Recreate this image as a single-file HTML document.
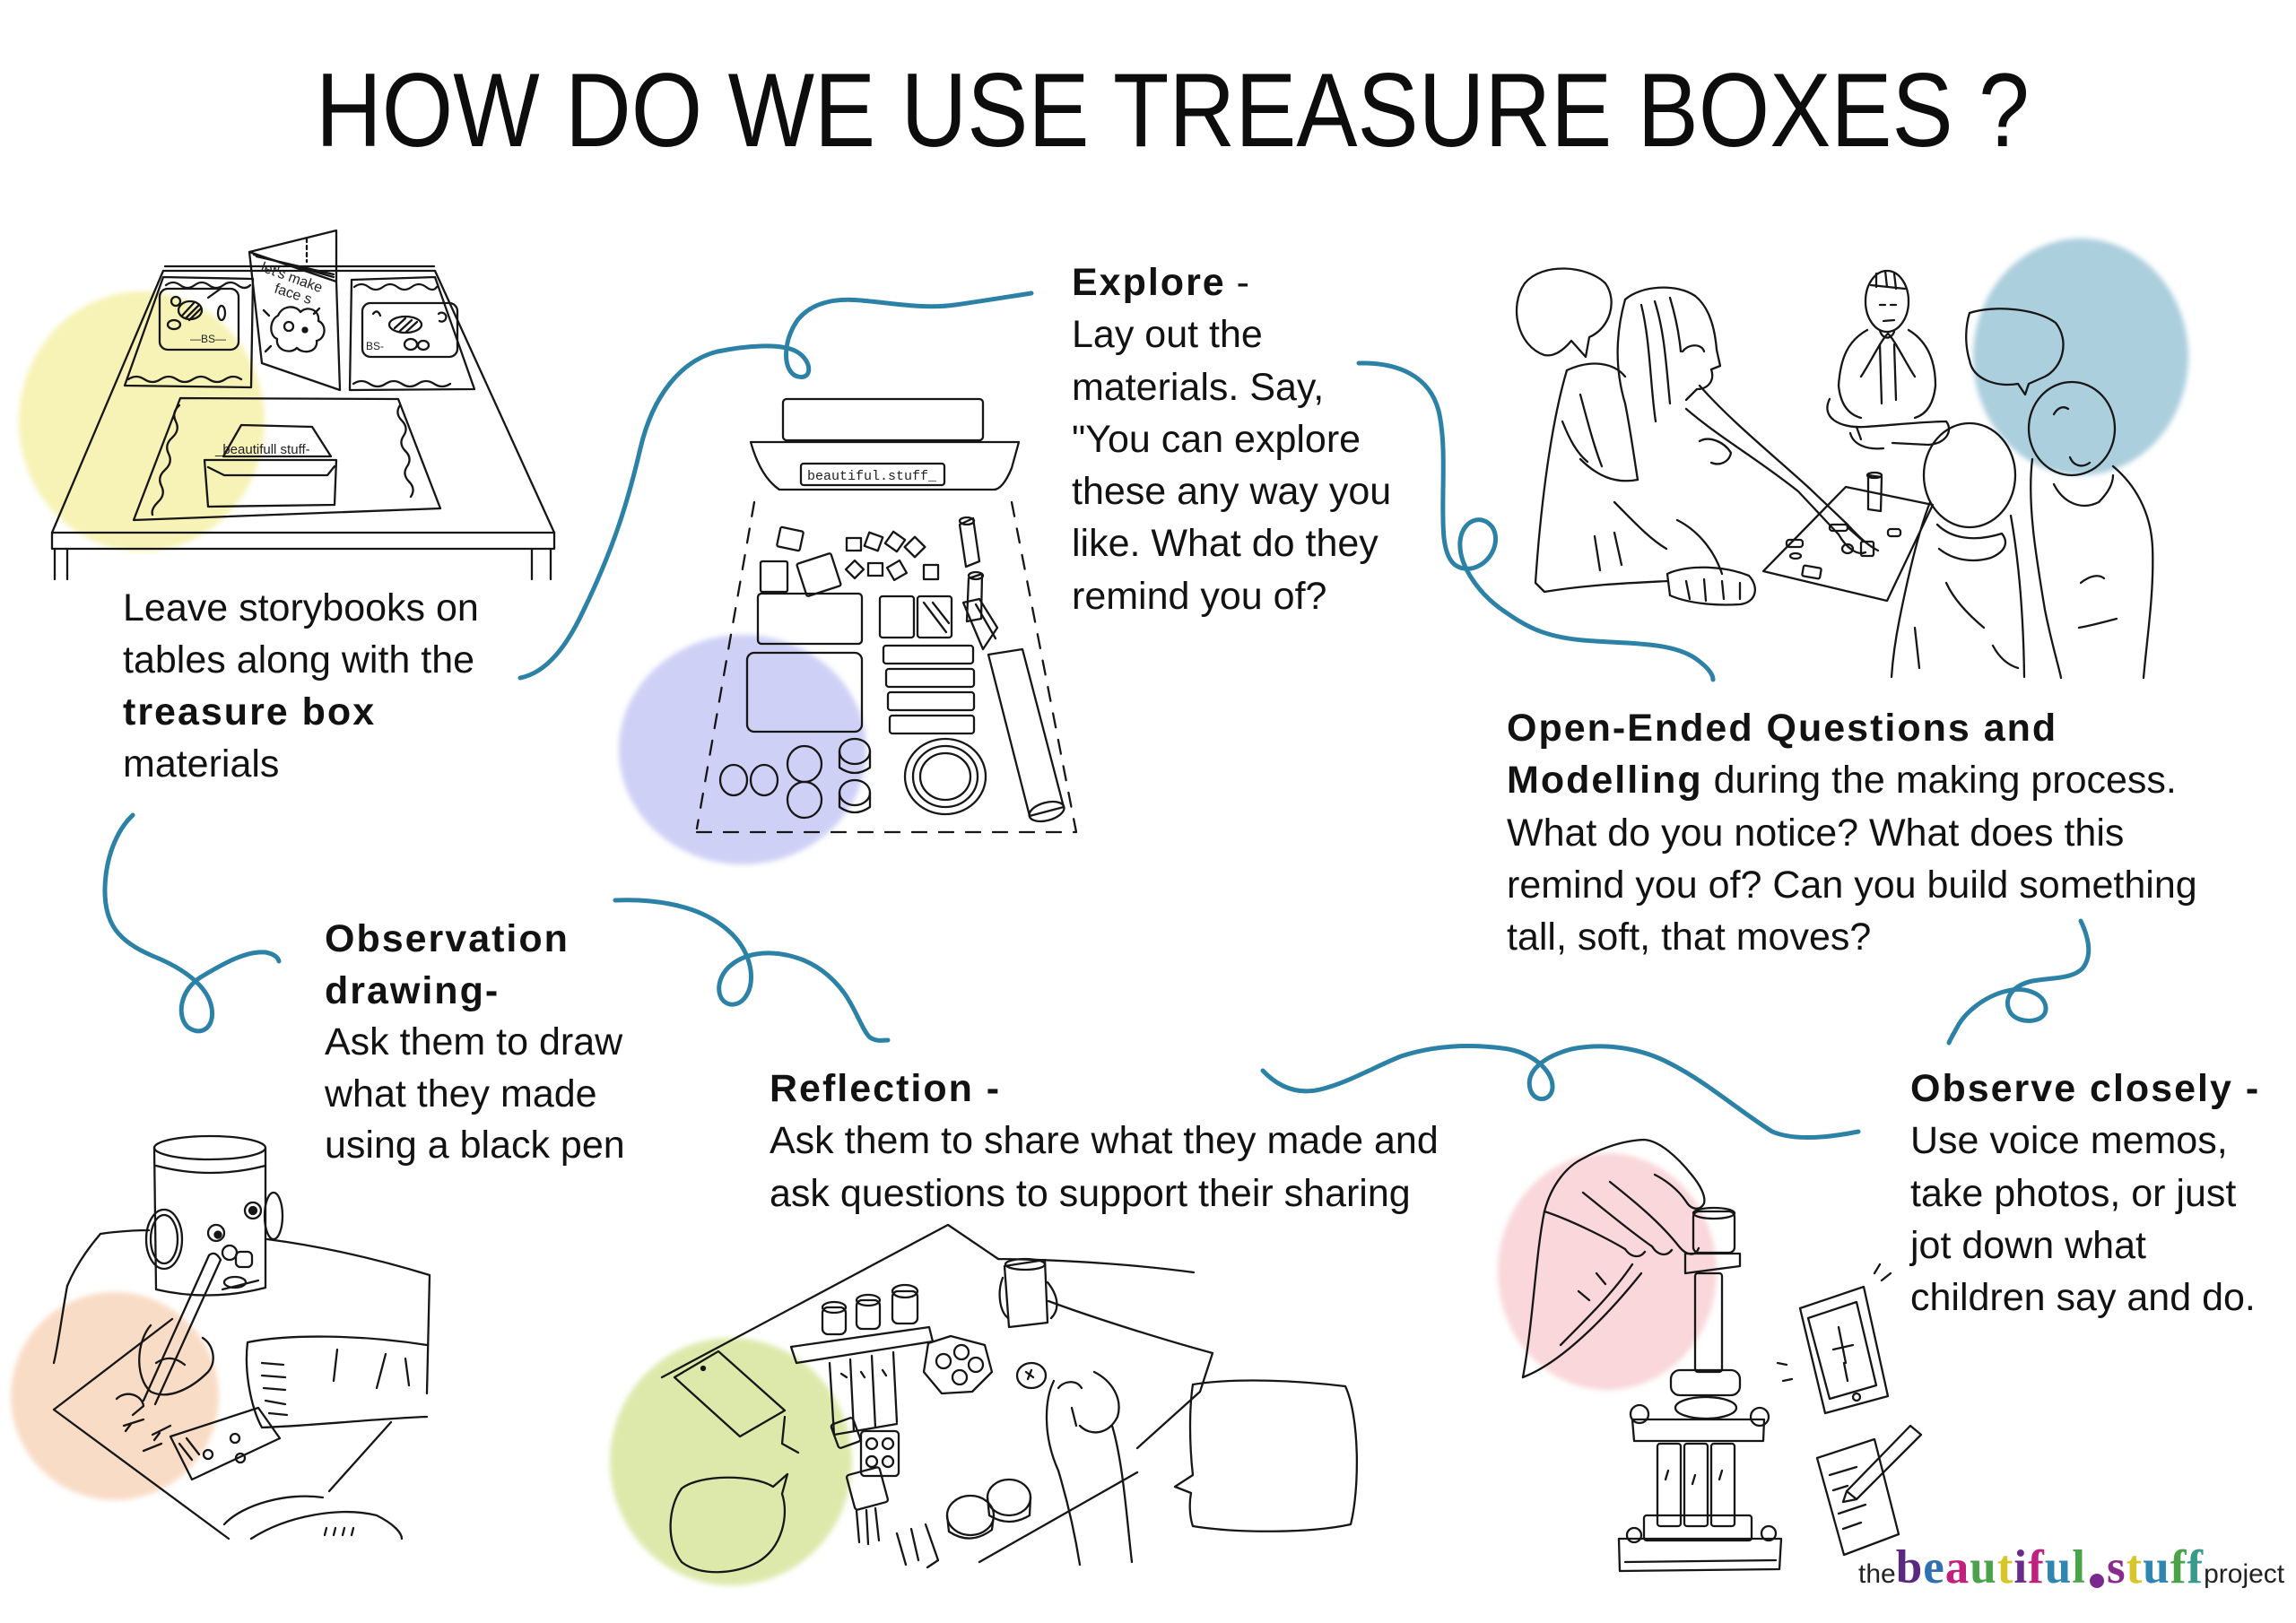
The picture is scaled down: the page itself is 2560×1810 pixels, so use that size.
<!DOCTYPE html>
<html><head><meta charset="utf-8">
<style>
html,body{margin:0;padding:0;background:#fff;}
#pg{position:relative;width:2560px;height:1810px;overflow:hidden;background:#fff;}
.t{position:absolute;font-family:"Liberation Sans",Arial,sans-serif;font-size:43px;line-height:58.3px;color:#121212;white-space:nowrap;}
.t b{font-weight:bold;letter-spacing:2px;}
#title{position:absolute;left:352px;top:64px;font-family:"Liberation Sans",Arial,sans-serif;font-size:117px;line-height:117px;color:#0d0d0d;white-space:nowrap;transform:scaleX(0.873);transform-origin:0 0;}
.logo{position:absolute;left:2072px;top:1718px;white-space:nowrap;font-size:0;}
.logo .s{font-family:"Liberation Sans",Arial,sans-serif;font-size:30px;color:#222;}
.logo .r{font-family:"Liberation Serif",serif;font-size:53px;font-weight:bold;letter-spacing:1px;}
svg text{font-family:"Liberation Sans",Arial,sans-serif;fill:#222;stroke:none;}
</style></head>
<body><div id="pg">
<svg width="2560" height="1810" viewBox="0 0 2560 1810" style="position:absolute;left:0;top:0">
<defs><filter id="soft" x="-20%" y="-20%" width="140%" height="140%"><feGaussianBlur stdDeviation="3"/></filter></defs>
<!-- watercolor blobs -->
<g filter="url(#soft)">
<ellipse cx="158" cy="470" rx="137" ry="145" fill="#f7f3b6"/>
<ellipse cx="828" cy="836" rx="138" ry="128" fill="#cfd0f6"/>
<ellipse cx="2320" cy="398" rx="120" ry="132" fill="#abcfdd"/>
<ellipse cx="128" cy="1557" rx="116" ry="116" fill="#f9dcc6"/>
<ellipse cx="815" cy="1630" rx="135" ry="138" fill="#dde9ab"/>
<ellipse cx="1792" cy="1418" rx="122" ry="132" fill="#f9d7da"/>
</g>
<!-- blue connectors -->
<g stroke="#2c81a7" stroke-width="5" fill="none" stroke-linecap="round" stroke-linejoin="round">
<path d="M580,756 C610,750 632,720 650,682 C684,612 700,560 714,500 C728,440 760,402 800,392 C830,386 870,382 888,392 C906,402 906,424 890,420 C872,416 872,380 890,356 C905,338 930,332 960,335 C995,338 1030,345 1065,340 C1100,335 1130,330 1150,327"/>
<path d="M1515,405 C1560,404 1594,420 1604,458 C1614,500 1606,560 1610,600 C1613,625 1622,636 1640,634 C1662,630 1674,604 1664,588 C1652,572 1630,580 1628,604 C1626,630 1648,660 1672,678 C1700,698 1720,710 1765,714 C1810,718 1862,715 1890,734 C1904,744 1910,752 1910,758"/>
<path d="M148,909 C130,926 118,956 117,990 C116,1030 132,1050 170,1066 C205,1080 232,1100 236,1124 C240,1148 222,1156 209,1145 C197,1133 200,1104 225,1089 C250,1074 275,1060 296,1062 C306,1064 310,1068 311,1072"/>
<path d="M686,1004 C730,1002 770,1010 796,1026 C822,1042 834,1062 837,1082 C840,1106 828,1122 814,1120 C799,1117 797,1094 812,1079 C830,1062 856,1060 881,1066 C906,1072 926,1087 941,1107 C955,1127 962,1150 970,1157 C978,1162 985,1160 990,1160"/>
<path d="M1408,1194 C1425,1212 1446,1221 1472,1215 C1502,1208 1532,1190 1562,1178 C1602,1165 1642,1164 1682,1170 C1712,1176 1732,1196 1731,1213 C1730,1229 1710,1230 1706,1214 C1701,1194 1722,1178 1752,1170 C1792,1162 1832,1170 1862,1186 C1902,1206 1942,1241 1976,1262 C2002,1273 2042,1268 2072,1262"/>
<path d="M2320,1027 C2329,1046 2333,1066 2322,1080 C2310,1092 2288,1090 2266,1094 C2244,1099 2232,1114 2242,1130 C2252,1143 2282,1141 2281,1124 C2280,1108 2258,1100 2238,1105 C2212,1111 2190,1130 2182,1146 C2177,1155 2174,1160 2173,1163"/>
</g>
<!-- line drawings -->
<g stroke="#161616" stroke-width="2.3" fill="none" stroke-linecap="round" stroke-linejoin="round">
<!-- TABLE -->
<path d="M182,302 L485,302 L618,594 L58,594 Z"/>
<path d="M184,297 L484,297"/>
<path d="M58,594 L58,612 L618,612 L618,594"/>
<path d="M61,612 L61,646 M75,612 L75,646 M593,612 L593,646 M614,612 L614,646"/>
<path d="M182,309 L282,311 L280,432 L139,430 Z"/>
<path d="M185,318 q8,-6 16,0 t16,0 t16,0 t16,0 t16,0 t14,0"/>
<path d="M143,423 q9,-6 18,0 t18,0 t18,0 t18,0 t18,0 t18,0 t18,0"/>
<rect x="178" y="322" width="88" height="68" rx="9"/>
<ellipse cx="212" cy="346" rx="13" ry="10"/><path d="M203,352 L216,338 M207,355 L221,341 M211,357 L224,344"/>
<ellipse cx="196" cy="336" rx="5" ry="5"/><ellipse cx="247" cy="349" rx="4" ry="8"/><path d="M232,332 L246,322"/><ellipse cx="194" cy="362" rx="7" ry="5"/>
<path d="M278,281 L375,314 L379,435 L292,405 Z"/>
<path d="M278,281 L375,257 L375,314"/>
<path d="M283,284 L372,309 M286,286 L372,306"/>
<path d="M342,266 L342,292" stroke-dasharray="4 4"/>
<path d="M310,352 c5,-12 20,-12 25,-4 c8,-8 22,-2 20,10 c10,4 8,20 -2,22 c2,12 -14,16 -22,8 c-8,8 -24,2 -22,-10 c-10,-4 -8,-22 1,-26 z"/>
<circle cx="322" cy="364" r="5"/><circle cx="340" cy="368" r="2.5" fill="#161616"/>
<path d="M300,352 l-6,-6 M350,350 l6,-6 M302,386 l-6,6"/>
<path d="M392,312 L485,309 L529,434 L390,435 Z"/>
<path d="M395,320 q8,-6 16,0 t16,0 t16,0 t16,0 t16,0 t12,0"/>
<path d="M394,428 q9,-6 18,0 t18,0 t18,0 t18,0 t18,0 t18,0"/>
<rect x="404" y="338" width="106" height="60" rx="9"/>
<ellipse cx="452" cy="362" rx="18" ry="9"/><path d="M440,366 L452,355 M446,369 L459,357 M453,370 L465,359"/>
<ellipse cx="458" cy="384" rx="7" ry="6"/><ellipse cx="472" cy="385" rx="6" ry="5"/><path d="M416,350 q5,-6 8,2 M489,350 a5,5 0 1 1 1,8"/>
<path d="M201,444 L444,445 L491,567 L149,580 Z"/>
<path d="M200,452 q-9,8 -4,18 q5,10 -4,18 q-9,8 -4,18 q5,10 -4,18 q-9,8 -4,18 q5,10 -4,18 q-8,8 -6,14"/>
<path d="M446,452 q-6,9 2,17 q8,8 2,17 q-6,9 2,17 q8,8 2,17 q-6,9 2,17 q8,8 2,17"/>
<path d="M269,474 L348,476 L369,509 L249,509 Z"/>
<path d="M228,513 L375,513 L373,563 L232,565 Z"/>
<path d="M232,521 L250,530 L365,530 L373,520"/>
<!-- EXPLORE -->
<rect x="873" y="445" width="223" height="46" rx="4"/>
<path d="M837,493 L1136,493 L1128,522 Q1118,546 1108,546 L869,546 Q848,532 837,493 Z"/>
<rect x="893" y="517" width="160" height="24" rx="3"/>
<path d="M841,560 L777,924 M1128,560 L1200,928 M777,928 L1200,928" stroke-dasharray="16 14"/>
<rect x="868" y="590" width="26" height="22" rx="2" transform="rotate(12 881 601)"/>
<rect x="848" y="626" width="30" height="34" rx="2"/>
<rect x="893" y="622" width="40" height="38" rx="2" transform="rotate(-18 913 641)"/>
<rect x="944" y="600" width="16" height="14"/><rect x="966" y="596" width="16" height="16" transform="rotate(20 974 604)"/>
<rect x="990" y="596" width="16" height="16" transform="rotate(35 998 604)"/><rect x="1012" y="602" width="16" height="16" transform="rotate(45 1020 610)"/>
<rect x="946" y="628" width="14" height="14" transform="rotate(45 953 635)"/><rect x="968" y="628" width="16" height="14"/><rect x="992" y="628" width="16" height="16" transform="rotate(-30 1000 636)"/><rect x="1030" y="630" width="16" height="16"/>
<path d="M1070,585 L1085,578 L1092,626 L1077,632 Z"/><ellipse cx="1078" cy="581" rx="8" ry="4"/>
<path d="M1080,645 L1095,640 L1094,690 L1078,693 Z"/><ellipse cx="1088" cy="642" rx="8" ry="4"/>
<rect x="845" y="662" width="116" height="56" rx="4"/>
<rect x="981" y="665" width="38" height="46" rx="3"/><rect x="1023" y="665" width="38" height="46" rx="3"/>
<path d="M1030,672 L1055,705 M1040,672 L1058,695"/>
<path d="M1074,672 L1092,668 L1112,700 L1096,724 Z M1088,674 L1110,712"/>
<rect x="833" y="728" width="128" height="88" rx="8"/>
<rect x="985" y="720" width="100" height="20" rx="3"/><rect x="988" y="746" width="98" height="20" rx="3"/>
<rect x="990" y="772" width="96" height="20" rx="3"/><rect x="992" y="798" width="94" height="20" rx="3"/>
<path d="M1102,730 L1140,724 L1186,900 L1148,910 Z"/><ellipse cx="1167" cy="905" rx="20" ry="10" transform="rotate(-15 1167 905)"/>
<ellipse cx="818" cy="870" rx="15" ry="17"/><ellipse cx="852" cy="870" rx="15" ry="17"/>
<ellipse cx="897" cy="852" rx="19" ry="20"/><ellipse cx="897" cy="892" rx="19" ry="20"/>
<ellipse cx="953" cy="838" rx="17" ry="14"/><path d="M936,838 L936,856 Q953,868 970,856 L970,838"/>
<ellipse cx="953" cy="884" rx="17" ry="14"/><path d="M936,884 L936,900 Q953,912 970,900 L970,884"/>
<ellipse cx="1054" cy="866" rx="45" ry="42"/><ellipse cx="1054" cy="866" rx="36" ry="34"/><ellipse cx="1054" cy="866" rx="28" ry="26"/>
<!-- PEOPLE -->
<path d="M1722,396 C1692,386 1682,342 1700,316 C1720,292 1770,296 1790,316 C1804,336 1795,366 1772,376 L1768,398 L1752,380 C1742,392 1732,398 1722,396 Z"/>
<path d="M1812,334 C1830,318 1870,316 1890,330 C1905,342 1912,365 1914,390 L1918,408 L1908,412 C1912,424 1905,434 1892,434 L1880,446"/>
<path d="M1812,334 C1802,370 1800,410 1812,450 C1818,480 1822,510 1826,535"/>
<path d="M1830,340 C1840,380 1840,430 1846,470 M1845,336 C1856,370 1858,410 1862,450 M1862,332 C1868,352 1872,370 1874,392"/>
<path d="M1876,392 C1884,382 1898,384 1900,392"/>
<path d="M1747,413 C1775,400 1800,405 1812,420"/>
<path d="M1747,413 C1730,470 1718,560 1712,650 L1722,660 C1770,652 1820,650 1860,648"/>
<path d="M1762,440 C1770,470 1778,500 1786,520 M1742,470 C1750,490 1758,505 1770,515"/>
<path d="M1762,512 C1780,530 1800,540 1826,535"/>
<path d="M1895,430 C1930,470 1980,510 2018,545 L2060,585 C2072,598 2082,608 2094,614 M1880,456 C1920,490 1960,512 2005,548 L2050,596"/>
<path d="M2050,596 C2058,610 2070,620 2080,616 M2060,588 L2078,604"/>
<path d="M1895,492 C1905,486 1922,492 1930,505 C1928,515 1918,520 1908,516"/>
<path d="M1800,560 C1820,580 1838,600 1858,612 M1778,598 L1784,636 M1800,594 L1808,630"/>
<path d="M1859,640 C1880,630 1920,630 1950,642 C1962,655 1958,672 1940,674 C1910,676 1880,672 1862,664 Z"/>
<path d="M1880,648 L1884,668 M1900,646 L1902,670 M1920,648 L1922,668 M1940,650 L1940,668"/>
<path d="M1870,580 C1890,590 1910,610 1920,640"/>
<path d="M2058,543 L2155,563 L2104,670 L1966,637 Z"/>
<path d="M2083,530 L2083,568 L2097,570 L2098,532 Z"/><ellipse cx="2090" cy="530" rx="8" ry="3"/>
<rect x="1992" y="602" width="18" height="8" rx="3"/><rect x="2010" y="632" width="20" height="12" rx="2" transform="rotate(10 2020 638)"/>
<rect x="2075" y="604" width="14" height="16" rx="2"/><rect x="2105" y="590" width="14" height="8" rx="3"/><rect x="2040" y="585" width="20" height="7" rx="3"/><ellipse cx="2060" cy="612" rx="6" ry="5"/><ellipse cx="2002" cy="620" rx="6" ry="3"/>
<ellipse cx="2104" cy="336" rx="24" ry="34"/>
<path d="M2086,318 L2124,322 M2092,305 L2092,320 M2102,302 L2104,320 M2112,305 L2114,322"/>
<path d="M2096,340 L2102,340 M2108,340 L2114,340 M2100,358 L2112,357"/>
<path d="M2096,368 C2098,378 2108,380 2112,370"/>
<path d="M2082,368 C2060,380 2052,400 2050,430 C2052,450 2060,462 2075,466 M2128,368 C2148,380 2158,400 2158,430 C2156,450 2148,462 2135,466"/>
<path d="M2075,420 C2085,405 2098,378 2105,372 C2112,378 2125,405 2135,420"/>
<path d="M2040,445 C2030,465 2050,478 2080,476 C2110,474 2150,470 2170,470 C2178,480 2170,495 2150,496 L2110,494"/>
<path d="M2063,483 C2066,495 2080,502 2100,500 M2070,476 L2075,490"/>
<path d="M2096,384 L2098,450 M2112,384 L2114,446"/>
<path d="M2196,349 C2224,340 2270,344 2292,360 C2308,380 2300,410 2280,420 L2262,428 L2258,440 L2250,428 C2228,432 2200,424 2196,402 C2190,382 2192,362 2196,349 Z"/>
<ellipse cx="2196" cy="530" rx="51" ry="58"/>
<path d="M2152,560 C2140,590 2128,640 2118,690 C2112,720 2110,740 2109,755"/>
<path d="M2242,575 C2250,620 2256,680 2257,755"/>
<path d="M2160,585 C2175,600 2200,605 2232,595 C2240,605 2236,615 2220,622 C2200,628 2178,625 2162,612"/>
<path d="M2170,650 C2180,672 2200,690 2212,700 M2135,700 L2140,745 M2222,720 C2230,735 2240,742 2250,745"/>
<ellipse cx="2310" cy="478" rx="48" ry="52"/>
<path d="M2290,462 C2294,455 2300,452 2306,456 M2308,510 C2312,520 2322,522 2330,516"/>
<path d="M2266,512 C2260,560 2270,620 2280,680 C2288,720 2296,745 2298,756"/>
<path d="M2356,520 C2380,540 2398,570 2400,610 C2402,660 2394,710 2390,756"/>
<path d="M2290,540 C2300,560 2320,570 2340,560 C2350,550 2356,540 2356,530"/>
<path d="M2320,650 C2330,642 2340,640 2346,645 M2318,700 C2330,698 2345,694 2360,690"/>
<!-- OBSERVATION DRAWING -->
<ellipse cx="234" cy="1280" rx="62" ry="13"/>
<path d="M172,1280 L174,1438 Q234,1452 296,1436 L296,1280"/>
<path d="M174,1300 Q234,1316 296,1300"/>
<ellipse cx="183" cy="1382" rx="20" ry="33"/><ellipse cx="183" cy="1382" rx="15" ry="27"/>
<ellipse cx="305" cy="1356" rx="10" ry="26"/>
<circle cx="241" cy="1375" r="9"/><circle cx="243" cy="1377" r="3.5" fill="#161616"/>
<circle cx="282" cy="1350" r="9"/><circle cx="282" cy="1350" r="4" fill="#161616"/>
<circle cx="256" cy="1397" r="8"/><rect x="263" y="1396" width="18" height="17" rx="5"/>
<ellipse cx="262" cy="1430" rx="12" ry="6"/><path d="M248,1438 L288,1428"/>
<path d="M233,1400 L160,1562 M246,1405 L173,1566 M233,1400 Q240,1394 246,1405"/>
<path d="M168,1478 C152,1496 150,1536 168,1552 C188,1562 214,1548 232,1530 C242,1518 238,1500 226,1492"/>
<path d="M174,1520 C186,1512 196,1514 206,1522"/>
<path d="M75,1434 C85,1410 100,1390 112,1376 C140,1372 160,1372 166,1372"/>
<path d="M75,1434 C70,1460 65,1500 60,1520"/>
<path d="M298,1382 C360,1390 420,1404 479,1422 L476,1554"/>
<path d="M276,1497 C320,1488 400,1488 476,1500 M276,1497 C272,1530 280,1570 292,1592 C350,1590 420,1582 476,1580"/>
<path d="M292,1520 L316,1522 M292,1534 L318,1536 M294,1548 L318,1550 M296,1562 L318,1566 M300,1576 L320,1578"/>
<path d="M376,1505 L372,1540 M430,1510 L420,1548 M452,1515 L456,1545"/>
<path d="M60,1572 L192,1471 M60,1572 L255,1716 M436,1586 L367,1663"/>
<path d="M190,1602 L288,1570 L312,1604 L214,1650 Z"/>
<path d="M200,1610 L214,1628 M208,1604 L222,1622"/>
<circle cx="232" cy="1622" r="5"/><circle cx="262" cy="1604" r="5"/><circle cx="268" cy="1626" r="5"/>
<path d="M138,1590 L160,1583 M140,1596 l6,-8 M170,1600 L190,1590 M172,1606 l6,-8 M160,1618 L180,1610"/>
<path d="M130,1560 C140,1550 158,1555 160,1568 L148,1578"/>
<path d="M250,1700 C270,1678 320,1664 360,1670 M280,1716 C320,1690 380,1680 420,1690 C440,1700 448,1710 448,1716"/>
<path d="M362,1712 l2,-8 M372,1712 l2,-8 M382,1712 l2,-8 M392,1712 l2,-8"/>
<!-- REFLECTION -->
<path d="M738,1536 L1057,1366 L1113,1404 M1113,1404 C1200,1405 1280,1412 1331,1419"/>
<path d="M1169,1451 C1220,1470 1300,1495 1352,1509 L1338,1552 L1268,1615"/>
<path d="M1092,1742 L1268,1642"/>
<path d="M1120,1412 L1165,1405 L1168,1475 L1125,1480 Z"/><ellipse cx="1143" cy="1410" rx="22" ry="6"/>
<path d="M1118,1425 C1112,1440 1114,1462 1124,1470 M1168,1430 C1180,1445 1182,1460 1172,1470"/>
<path d="M752,1536 L801,1507 L875,1573 L825,1602 Z"/><circle cx="784" cy="1526" r="2" fill="#161616"/>
<path d="M875,1580 L872,1610 L890,1620"/>
<path d="M760,1660 C745,1680 742,1720 760,1742 C780,1758 820,1756 845,1742 C872,1726 880,1690 872,1666 L878,1644 L862,1658 C840,1644 780,1644 760,1660 Z"/>
<path d="M1330,1544 C1380,1536 1450,1540 1500,1546 C1516,1580 1516,1660 1506,1700 C1460,1710 1380,1710 1330,1702 C1326,1690 1326,1675 1328,1665 L1310,1658 L1330,1645 C1326,1610 1326,1570 1330,1544 Z"/>
<path d="M882,1502 L1036,1480 L1040,1496 L888,1520 Z"/>
<rect x="917" y="1458" width="26" height="30" rx="6"/><ellipse cx="930" cy="1458" rx="13" ry="6"/>
<rect x="955" y="1450" width="26" height="32" rx="6"/><ellipse cx="968" cy="1450" rx="13" ry="6"/>
<rect x="995" y="1440" width="28" height="36" rx="6"/><ellipse cx="1009" cy="1440" rx="14" ry="7"/>
<path d="M925,1520 L930,1600 M948,1516 L952,1596 M972,1512 L976,1592 M996,1508 L1000,1586"/>
<path d="M930,1600 L1000,1588 M938,1532 l6,4 M960,1530 l4,6 M984,1528 l4,6"/>
<path d="M1035,1498 L1060,1490 L1098,1500 L1106,1530 L1084,1552 L1050,1554 L1030,1530 Z"/>
<circle cx="1052" cy="1518" r="8"/><circle cx="1072" cy="1508" r="8"/><circle cx="1088" cy="1522" r="8"/><circle cx="1070" cy="1536" r="8"/>
<ellipse cx="1150" cy="1534" rx="16" ry="14"/><path d="M1144,1530 l8,6 M1150,1528 l-4,10"/>
<rect x="960" y="1596" width="42" height="50" rx="4"/><circle cx="972" cy="1610" r="6"/><circle cx="990" cy="1610" r="6"/><circle cx="972" cy="1630" r="6"/><circle cx="990" cy="1630" r="6"/>
<rect x="930" y="1584" width="26" height="28" rx="3" transform="rotate(-20 943 1598)"/>
<rect x="948" y="1640" width="38" height="40" rx="3" transform="rotate(-15 967 1660)"/>
<path d="M955,1685 L958,1720 M966,1684 L968,1722 M976,1682 L980,1718"/>
<path d="M1000,1710 L1010,1745 M1016,1705 L1024,1740"/>
<path d="M1175,1540 C1165,1560 1162,1600 1180,1640 C1192,1680 1200,1720 1204,1745 M1220,1530 C1240,1540 1252,1560 1246,1580 C1236,1600 1216,1602 1204,1590 M1240,1590 C1252,1630 1256,1690 1262,1742"/>
<path d="M1180,1548 C1186,1540 1200,1538 1206,1548 M1195,1570 L1200,1590"/>
<ellipse cx="1082" cy="1690" rx="26" ry="22"/><path d="M1056,1690 L1058,1708 Q1082,1724 1106,1706 L1108,1690"/>
<ellipse cx="1125" cy="1670" rx="24" ry="20"/><path d="M1101,1670 L1103,1690 Q1125,1704 1148,1690 L1149,1670"/>
<path d="M1032,1700 L1046,1740 L1034,1748"/>
<!-- OBSERVE CLOSELY -->
<path d="M1698,1536 C1710,1470 1712,1400 1722,1351 C1730,1320 1748,1300 1765,1292 C1790,1278 1812,1272 1833,1271 C1850,1272 1870,1290 1886,1310 C1896,1322 1902,1334 1900,1342 C1896,1350 1886,1350 1880,1340 C1870,1325 1855,1315 1845,1310"/>
<path d="M1722,1351 C1750,1360 1790,1380 1812,1393 C1818,1402 1828,1404 1834,1396 M1765,1330 C1790,1350 1820,1375 1842,1390 C1848,1400 1858,1402 1864,1394 M1795,1318 C1820,1338 1850,1362 1872,1390 C1880,1400 1890,1402 1894,1392"/>
<path d="M1698,1536 C1740,1520 1790,1470 1830,1420 M1740,1500 C1770,1470 1800,1440 1820,1410"/>
<path d="M1760,1440 L1772,1450 M1780,1420 L1790,1432"/>
<rect x="1888" y="1351" width="46" height="46" rx="6"/><ellipse cx="1911" cy="1353" rx="23" ry="6"/>
<path d="M1879,1398 L1940,1398 L1940,1412 L1879,1420 Z"/>
<rect x="1890" y="1420" width="30" height="110" rx="3"/>
<rect x="1863" y="1528" width="77" height="28" rx="10"/>
<ellipse cx="1902" cy="1570" rx="34" ry="12"/>
<path d="M1820,1583 L1967,1583 L1966,1607 L1822,1607 Z"/>
<circle cx="1828" cy="1577" r="10"/><circle cx="1962" cy="1580" r="10"/>
<rect x="1848" y="1610" width="26" height="92" rx="3"/><rect x="1878" y="1610" width="26" height="92" rx="3"/><rect x="1908" y="1610" width="26" height="92" rx="3"/>
<path d="M1860,1640 l-3,10 M1890,1645 l-3,10 M1920,1640 l-3,10"/>
<rect x="1833" y="1690" width="120" height="28" rx="3"/>
<path d="M1805,1716 L1986,1716 L1984,1750 L1806,1752 Z"/><path d="M1812,1742 L1980,1740"/>
<circle cx="1822" cy="1712" r="8"/><circle cx="1972" cy="1710" r="8"/>
<path d="M2007,1459 L2078,1435 L2105,1557 L2035,1576 Z"/>
<path d="M2016,1470 L2070,1452 L2092,1545 L2040,1560 Z"/><circle cx="2070" cy="1558" r="4"/>
<path d="M2050,1480 L2058,1520 M2044,1505 L2066,1500 M2056,1520 L2060,1540"/>
<path d="M1982,1520 L1992,1522 M1988,1540 L1998,1538 M2090,1420 L2096,1410 M2098,1428 L2108,1420"/>
<path d="M2026,1626 L2090,1605 L2117,1711 L2056,1734 Z"/>
<path d="M2040,1645 L2070,1636 M2044,1662 L2060,1657 M2050,1688 L2080,1678 M2055,1705 L2075,1698"/>
<path d="M2059,1663 L2130,1590 L2142,1600 L2070,1672 Z M2059,1663 L2055,1675 L2070,1672"/>
</g>
<!-- handwritten labels in drawings -->
<text x="290" y="302" font-size="16" transform="rotate(20 290 302)">let's make</text>
<text x="305" y="326" font-size="16" transform="rotate(18 305 326)">face s</text>
<text x="212" y="382" font-size="12">—BS—</text>
<text x="408" y="390" font-size="12">BS-</text>
<text x="240" y="506" font-size="15">_beautifull stuff-</text>
<text x="900" y="535" font-size="15" style="font-family:'Liberation Mono',monospace">beautiful.stuff_</text>
</svg>

<div id="title">HOW DO WE USE TREASURE BOXES ?</div>

<div class="t" style="left:137px;top:649px;line-height:58px;">Leave storybooks on<br>tables along with the<br><b>treasure box</b><br>materials</div>

<div class="t" style="left:1195px;top:286px;"><b>Explore</b> -<br>Lay out the<br>materials. Say,<br>"You can explore<br>these any way you<br>like. What do they<br>remind you of?</div>

<div class="t" style="left:1680px;top:783px;"><b>Open-Ended Questions and</b><br><b>Modelling</b> during the making process.<br>What do you notice? What does this<br>remind you of? Can you build something<br>tall, soft, that moves?</div>

<div class="t" style="left:362px;top:1019px;line-height:57.6px;"><b>Observation</b><br><b>drawing-</b><br>Ask them to draw<br>what they made<br>using a black pen</div>

<div class="t" style="left:858px;top:1185px;"><b>Reflection -</b><br>Ask them to share what they made and<br>ask questions to support their sharing</div>

<div class="t" style="left:2130px;top:1185px;"><b>Observe closely -</b><br>Use voice memos,<br>take photos, or just<br>jot down what<br>children say and do.</div>

<div class="logo"><span class="s">the</span><span class="r"><span style="color:#5a2a82">b</span><span style="color:#2f6fb2">e</span><span style="color:#c2207f">a</span><span style="color:#4aa348">u</span><span style="color:#d8c52a">t</span><span style="color:#6a2c8c">i</span><span style="color:#c2207f">f</span><span style="color:#2f86b0">u</span><span style="color:#4aa348">l</span></span><span style="display:inline-block;width:16px;height:16px;border-radius:50%;background:#7a2a8e;margin:0 3px 4px 4px;vertical-align:middle;"></span><span class="r"><span style="color:#8a2a8e">s</span><span style="color:#d8c52a">t</span><span style="color:#2f86b0">u</span><span style="color:#4aa348">f</span><span style="color:#3a9a8a">f</span></span><span class="s">project</span></div>
</div></body></html>
